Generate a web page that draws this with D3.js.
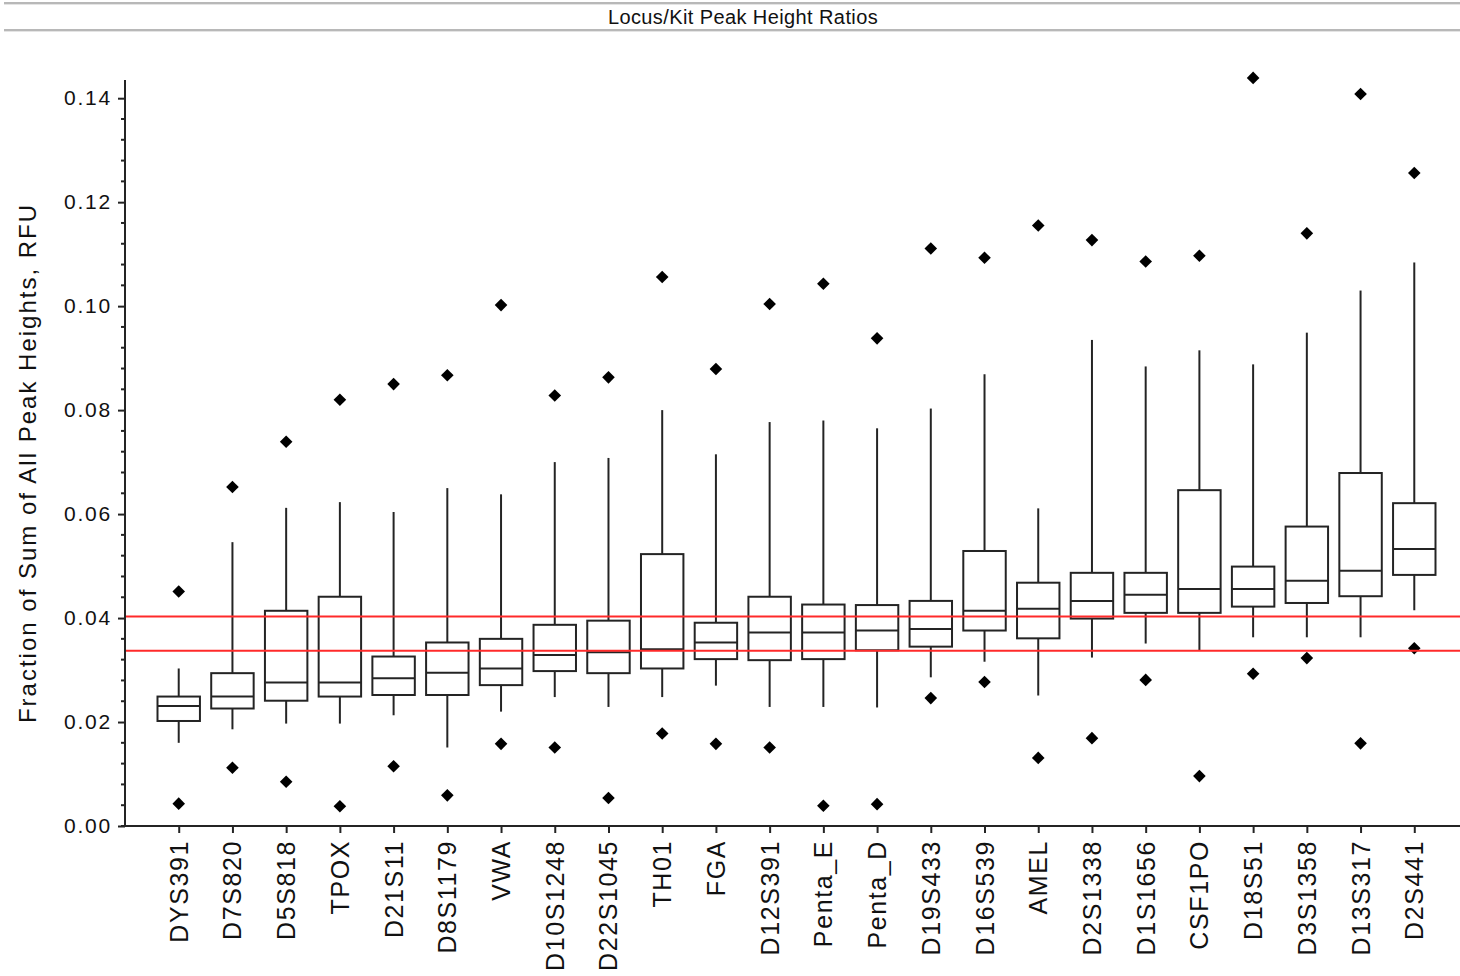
<!DOCTYPE html>
<html>
<head>
<meta charset="utf-8">
<script src="https://cdn.jsdelivr.net/npm/d3@7"></script>
<style>
  html, body { margin: 0; padding: 0; background: #fff; }
  svg { display: block; font-family: "Liberation Sans", Arial, sans-serif; }
</style>
</head>
<body>
<svg id="chart" width="1460" height="976"></svg>
<script>
// Loci, ordered by median
const loci = ["DYS391","D7S820","D5S818","TPOX","D21S11","D8S1179","VWA","D10S1248",
  "D22S1045","TH01","FGA","D12S391","Penta_E","Penta_D","D19S433","D16S539","AMEL",
  "D2S1338","D1S1656","CSF1PO","D18S51","D3S1358","D13S317","D2S441"];

// Box-plot statistics (fraction of sum of all peak heights)
const whiskerLow = [0.0160,0.0186,0.0197,0.0197,0.0213,0.0151,0.0220,0.0248,0.0229,0.0248,0.0270,0.0229,
  0.0229,0.0228,0.0286,0.0316,0.0251,0.0324,0.0351,0.0338,0.0363,0.0363,0.0363,0.0415];
const q1 = [0.0202,0.0226,0.0241,0.0249,0.0252,0.0252,0.0271,0.0298,0.0294,0.0303,0.0321,0.0319,
  0.0321,0.0338,0.0345,0.0376,0.0361,0.0399,0.0410,0.0410,0.0422,0.0429,0.0442,0.0483];
const median = [0.0231,0.0249,0.0276,0.0276,0.0284,0.0295,0.0303,0.0329,0.0334,0.0340,0.0353,0.0372,
  0.0372,0.0376,0.0379,0.0414,0.0418,0.0433,0.0445,0.0456,0.0456,0.0472,0.0491,0.0533];
const q3 = [0.0249,0.0294,0.0414,0.0441,0.0326,0.0353,0.0360,0.0387,0.0395,0.0523,0.0391,0.0441,
  0.0426,0.0425,0.0433,0.0529,0.0468,0.0487,0.0487,0.0646,0.0499,0.0576,0.0679,0.0621];
const whiskerHigh = [0.0303,0.0546,0.0612,0.0623,0.0604,0.0650,0.0638,0.0700,0.0708,0.0800,0.0715,0.0777,
  0.0780,0.0765,0.0803,0.0869,0.0611,0.0935,0.0884,0.0915,0.0888,0.0949,0.1030,0.1084];
const outlierHigh = [0.0451,0.0652,0.0739,0.0820,0.0850,0.0867,0.1002,0.0828,0.0863,0.1056,0.0879,0.1004,
  0.1043,0.0938,0.1111,0.1093,0.1155,0.1127,0.1086,0.1097,0.1439,0.1140,0.1408,0.1256];
const outlierLow = [0.0043,0.0112,0.0085,0.0038,0.0115,0.0059,0.0158,0.0151,0.0054,0.0178,0.0158,0.0151,
  0.0039,0.0042,0.0246,0.0277,0.0131,0.0169,0.0281,0.0096,0.0293,0.0323,0.0159,0.0342];

// Horizontal reference lines
const refLines = [0.0403, 0.0337];

// Y axis ticks
const yMajorTicks = [0, 0.02, 0.04, 0.06, 0.08, 0.10, 0.12, 0.14];
const yMinorStep = 0.004;

const svg = d3.select("#chart");
const W = 1460;
const plot = { left: 125, right: 1468, top: 80, bottom: 826 };

const x = d3.scalePoint().domain(loci).range([plot.left, plot.right]).padding(1);
const y = d3.scaleLinear().domain([0, 0.1435]).range([plot.bottom, plot.top]);

const ink = "#242424";

// Title bar with separator rules
svg.append("rect").attr("x", 4).attr("y", 2).attr("width", W - 4).attr("height", 2).attr("fill", "#b8b8b8");
svg.append("rect").attr("x", 4).attr("y", 4).attr("width", W - 4).attr("height", 1).attr("fill", "#e4e4e4");
svg.append("rect").attr("x", 4).attr("y", 29).attr("width", W - 4).attr("height", 2).attr("fill", "#b8b8b8");
svg.append("rect").attr("x", 4).attr("y", 31).attr("width", W - 4).attr("height", 1).attr("fill", "#e4e4e4");
svg.append("text")
  .attr("x", 743).attr("y", 24)
  .attr("text-anchor", "middle")
  .attr("font-size", 20).attr("letter-spacing", 0.4)
  .attr("fill", "#111")
  .text("Locus/Kit Peak Height Ratios");

// Y axis
const minorTicks = d3.range(0, 0.1435, yMinorStep).filter(v => !yMajorTicks.some(m => Math.abs(m - v) < 1e-6));
const yAxis = d3.axisLeft(y).tickValues(yMajorTicks).tickFormat(d3.format(".2f")).tickSize(7).tickPadding(6);
const gy = svg.append("g").attr("transform", `translate(${plot.left},0)`).call(yAxis);
gy.select(".domain").remove();
gy.selectAll(".tick line").attr("stroke", ink).attr("stroke-width", 2);
gy.selectAll(".tick text").attr("font-size", 21).attr("letter-spacing", 1.8).attr("fill", "#111")
  .attr("font-family", "Liberation Sans, Arial, sans-serif");
svg.append("g").selectAll("line").data(minorTicks).join("line")
  .attr("x1", plot.left - 4).attr("x2", plot.left)
  .attr("y1", d => y(d)).attr("y2", d => y(d))
  .attr("stroke", ink).attr("stroke-width", 2);
svg.append("line")
  .attr("x1", plot.left).attr("x2", plot.left)
  .attr("y1", plot.top).attr("y2", plot.bottom + 1)
  .attr("stroke", ink).attr("stroke-width", 2);

// Y axis title
svg.append("text")
  .attr("transform", `translate(36,${463}) rotate(-90)`)
  .attr("text-anchor", "middle")
  .attr("font-size", 24).attr("letter-spacing", 2)
  .attr("fill", "#111")
  .text("Fraction of Sum of All Peak Heights, RFU");

// X axis
const xAxis = d3.axisBottom(x).tickSize(7).tickFormat("");
const gx = svg.append("g").attr("transform", `translate(0,${plot.bottom})`).call(xAxis);
gx.select(".domain").remove();
gx.selectAll(".tick line").attr("stroke", ink).attr("stroke-width", 2);
svg.append("line")
  .attr("x1", plot.left - 4).attr("x2", W)
  .attr("y1", plot.bottom).attr("y2", plot.bottom)
  .attr("stroke", ink).attr("stroke-width", 2);
svg.append("g").selectAll("text").data(loci).join("text")
  .attr("transform", d => `translate(${x(d) + 9},${plot.bottom + 14}) rotate(-90)`)
  .attr("text-anchor", "end")
  .attr("font-size", 25).attr("letter-spacing", 1.6)
  .attr("fill", "#111")
  .text(d => d);

// Boxes
const boxW = x.step() * 0.79;
const boxes = svg.append("g");
loci.forEach((name, i) => {
  const cx = x(name);
  const g = boxes.append("g");
  g.append("line").attr("x1", cx).attr("x2", cx).attr("y1", y(q3[i])).attr("y2", y(whiskerHigh[i]))
    .attr("stroke", ink).attr("stroke-width", 2);
  g.append("line").attr("x1", cx).attr("x2", cx).attr("y1", y(q1[i])).attr("y2", y(whiskerLow[i]))
    .attr("stroke", ink).attr("stroke-width", 2);
  g.append("rect").attr("x", cx - boxW / 2).attr("y", y(q3[i]))
    .attr("width", boxW).attr("height", y(q1[i]) - y(q3[i]))
    .attr("fill", "none").attr("stroke", ink).attr("stroke-width", 2);
  g.append("line").attr("x1", cx - boxW / 2).attr("x2", cx + boxW / 2)
    .attr("y1", y(median[i])).attr("y2", y(median[i]))
    .attr("stroke", ink).attr("stroke-width", 2);
});

// Outliers as diamonds
const diamond = (cx, cy, r) => `M${cx},${cy - r}L${cx + r},${cy}L${cx},${cy + r}L${cx - r},${cy}Z`;
const pts = loci.flatMap((name, i) => [{ name, v: outlierHigh[i] }, { name, v: outlierLow[i] }]);
svg.append("g").selectAll("path").data(pts).join("path")
  .attr("d", d => diamond(x(d.name), y(d.v), 6.3))
  .attr("fill", "#000");

// Reference lines on top
svg.append("g").selectAll("line").data(refLines).join("line")
  .attr("x1", plot.left + 1).attr("x2", W)
  .attr("y1", d => y(d)).attr("y2", d => y(d))
  .attr("stroke", "#ff2a2a").attr("stroke-width", 2);
</script>
</body>
</html>
